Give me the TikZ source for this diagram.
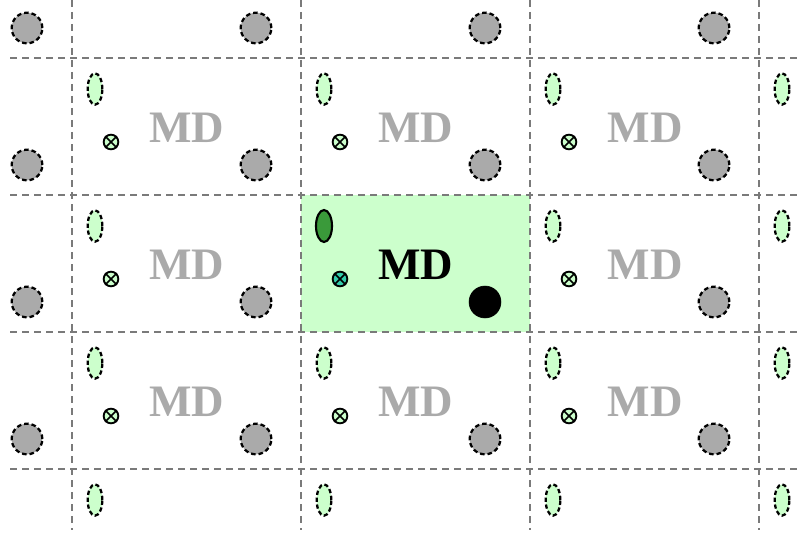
\documentclass[tikz,border=0pt]{standalone}
\usepackage{fontspec}
\setmainfont{Liberation Serif}
\usetikzlibrary{shapes.geometric}
\definecolor{ghostgreen}{HTML}{CCFFCC}
\definecolor{darkgreen}{HTML}{3A9A3A}
\definecolor{tealfill}{HTML}{33CCAA}
\definecolor{gridgray}{HTML}{7A7A7A}
\definecolor{ghostgray}{HTML}{AAAAAA}
\tikzset{
  gridline/.style={draw=gridgray, line width=2.2pt, dash pattern=on 5.5pt off 3.5pt},
  ghostell/.style={ellipse, draw=black, fill=ghostgreen, line width=1.7pt, dash pattern=on 3.2pt off 2pt, minimum width=11pt, minimum height=23.5pt, inner sep=0pt},
  realell/.style={ellipse, draw=black, fill=darkgreen, line width=1.6pt, minimum width=12pt, minimum height=24pt, inner sep=0pt},
  ghostcirc/.style={circle, draw=black, fill=ghostgray, line width=1.7pt, dash pattern=on 3.4pt off 2.2pt, minimum size=23pt, inner sep=0pt},
  realcirc/.style={circle, draw=black, fill=black, minimum size=24pt, inner sep=0pt},
  otimesnode/.style={circle, draw=black, line width=1.4pt, minimum size=11pt, inner sep=0pt},
  crossline/.style={line width=1.2pt},
  ghostlabel/.style={font=\bfseries\fontsize{33.75pt}{36pt}\selectfont, text=ghostgray, inner sep=0pt},
  reallabel/.style={font=\bfseries\fontsize{33.75pt}{36pt}\selectfont, text=black, inner sep=0pt},
}
\begin{document}
\begin{tikzpicture}[x=0.75pt,y=-0.75pt]
\useasboundingbox (0,0) rectangle (800,535);
\begin{scope}
\clip (0,0) rectangle (800,535);
% highlighted cell
\fill[ghostgreen] (301,195) rectangle (530,332);
% grid
\foreach \gx in {72,301,530,759} \draw[gridline] (\gx,0) -- (\gx,530);
\foreach \gy in {58,195,332,469} \draw[gridline] (10,\gy) -- (800,\gy);
% ghost gray circles
\foreach \i in {-1,0,1,2} {
  \foreach \j in {-1,0,1,2} {
    \pgfmathsetmacro{\cx}{72+229*\i+184}
    \pgfmathsetmacro{\cy}{58+137*\j+107}
    \ifnum\i=1 \ifnum\j=1 \else
      \node[ghostcirc] (gc\i\j) at (\cx,\cy) {};
    \fi\else
      \node[ghostcirc] (gc\i\j) at (\cx,\cy) {};
    \fi
  }
}
% ghost ellipses
\foreach \i in {0,1,2,3} {
  \foreach \j in {0,1,2,3} {
    \pgfmathsetmacro{\ex}{72+229*\i+23}
    \pgfmathsetmacro{\ey}{58+137*\j+31}
    \ifnum\i=1 \ifnum\j=1 \else
      \node[ghostell] (ge\i\j) at (\ex,\ey) {};
    \fi\else
      \node[ghostell] (ge\i\j) at (\ex,\ey) {};
    \fi
  }
}
% ghost otimes and labels
\foreach \i in {0,1,2} {
  \foreach \j in {0,1,2} {
    \pgfmathsetmacro{\ox}{72+229*\i+39}
    \pgfmathsetmacro{\oy}{58+137*\j+84}
    \pgfmathsetmacro{\mx}{72+229*\i+115}
    \pgfmathsetmacro{\my}{58+137*\j+70}
    \ifnum\i=1 \ifnum\j=1 \else
      \node[otimesnode, fill=ghostgreen] (go\i\j) at (\ox,\oy) {};
      \draw[crossline] (go\i\j.45) -- (go\i\j.225) (go\i\j.135) -- (go\i\j.315);
      \node[ghostlabel] (gl\i\j) at (\mx,\my) {MD};
    \fi\else
      \node[otimesnode, fill=ghostgreen] (go\i\j) at (\ox,\oy) {};
      \draw[crossline] (go\i\j.45) -- (go\i\j.225) (go\i\j.135) -- (go\i\j.315);
      \node[ghostlabel] (gl\i\j) at (\mx,\my) {MD};
    \fi
  }
}
% central real cell
\node[realell] (rell) at (324,226) {};
\node[otimesnode, fill=tealfill] (rot) at (340,279) {};
\draw[crossline] (rot.45) -- (rot.225) (rot.135) -- (rot.315);
\node[reallabel] (rlab) at (416,265) {MD};
\node[realcirc] (rcirc) at (485,302) {};
\end{scope}
\end{tikzpicture}
\end{document}
